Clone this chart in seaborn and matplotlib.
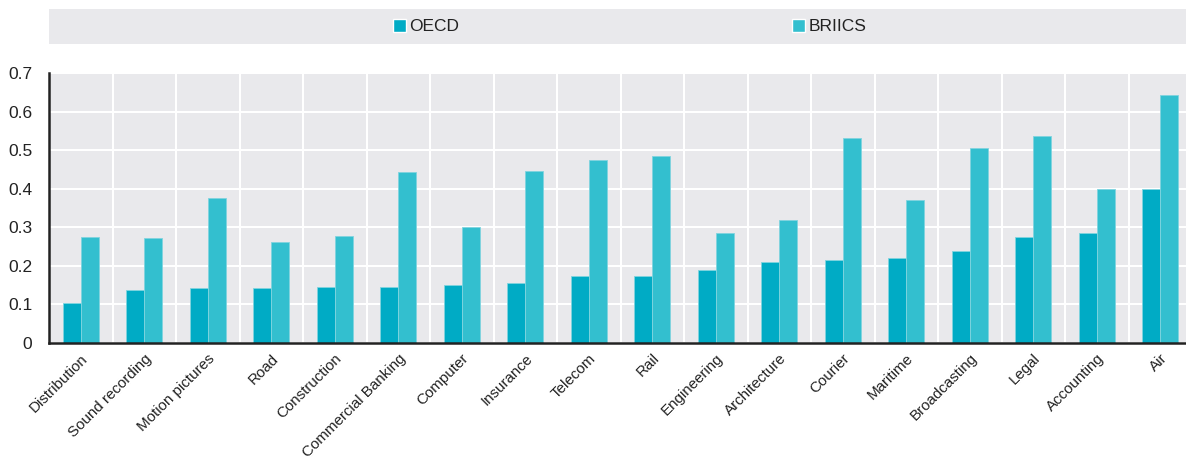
import numpy as np
import pandas as pd
import matplotlib
matplotlib.use("Agg")
import matplotlib.pyplot as plt
import seaborn as sns
from matplotlib.patches import Rectangle
from matplotlib.ticker import FixedLocator

sectors = ["Distribution", "Sound recording", "Motion pictures", "Road", "Construction",
           "Commercial Banking", "Computer", "Insurance", "Telecom", "Rail", "Engineering",
           "Architecture", "Courier", "Maritime", "Broadcasting", "Legal", "Accounting", "Air"]
oecd = [0.103, 0.137, 0.142, 0.143, 0.144, 0.146, 0.151, 0.155, 0.173, 0.174, 0.188,
        0.210, 0.215, 0.221, 0.238, 0.276, 0.286, 0.400]
briics = [0.274, 0.273, 0.376, 0.263, 0.278, 0.443, 0.301, 0.447, 0.474, 0.486, 0.286,
          0.318, 0.531, 0.372, 0.506, 0.537, 0.398, 0.643]
groups = ["OECD", "BRIICS"]
colors = ["#00abc5", "#33bfcf"]
yticks = [0, 0.1, 0.2, 0.3, 0.4, 0.5, 0.6, 0.7]
ylabels = ["0", "0.1", "0.2", "0.3", "0.4", "0.5", "0.6", "0.7"]

df = pd.DataFrame({
    "sector": sectors * 2,
    "value": oecd + briics,
    "group": [groups[0]] * len(sectors) + [groups[1]] * len(sectors),
})

sns.set_style("white")
plt.rcParams["font.family"] = ["Liberation Sans", "DejaVu Sans"]

W, H = 1186, 459
fig = plt.figure(figsize=(W / 100, H / 100), dpi=100)
ax = fig.add_axes([49 / W, 116 / H, 1143 / W, 270 / H])
ax.set_facecolor("#e9e9ec")

sns.barplot(data=df, x="sector", y="value", hue="group", palette=colors,
            width=0.57, saturation=1, edgecolor="#80d4df", linewidth=0.6,
            legend=False, ax=ax)

ax.set_xlim(-0.5, len(sectors) - 0.5)
ax.set_ylim(0, 0.7)
ax.set_yticks(yticks)
ax.set_yticklabels(ylabels, fontsize=12.5, color="#222222")
ax.set_xticks(range(len(sectors)))
ax.set_xticklabels(sectors, rotation=45, ha="right", rotation_mode="anchor",
                   fontsize=10.9, color="#222222")
ax.xaxis.set_minor_locator(FixedLocator(np.arange(0.5, len(sectors) - 0.5, 1)))
ax.tick_params(axis="x", which="major", length=0, pad=6)
ax.tick_params(axis="x", which="minor", direction="in", length=4, width=1.2, color="#222222")
ax.tick_params(axis="y", direction="in", length=4, width=1.2, color="#222222", pad=12)
ax.set_xlabel("")
ax.set_ylabel("")

ax.set_axisbelow(True)
ax.yaxis.grid(True, color="white", linewidth=1.5)
ax.xaxis.grid(True, which="minor", color="white", linewidth=1.5)
ax.xaxis.grid(False, which="major")

for s in ["top", "right"]:
    ax.spines[s].set_visible(False)
for s in ["left", "bottom"]:
    ax.spines[s].set_color("#222222")
    ax.spines[s].set_linewidth(1.8)

# legend band
fig.patches.append(Rectangle((49 / W, (H - 44) / H), (W - 49) / W, 35 / H,
                             transform=fig.transFigure, facecolor="#e9e9ec",
                             edgecolor="none", zorder=0))
handles = [Rectangle((0, 0), 1, 1, facecolor=c) for c in colors]
fig.legend(handles, groups, loc="center left", bbox_to_anchor=(377 / W, (H - 26.5) / H),
           ncol=2, frameon=False, fontsize=12.5, handlelength=0.75, handleheight=0.75,
           handletextpad=0.2, columnspacing=19.2, labelcolor="#222222")

fig.savefig("out.png", dpi=100)
